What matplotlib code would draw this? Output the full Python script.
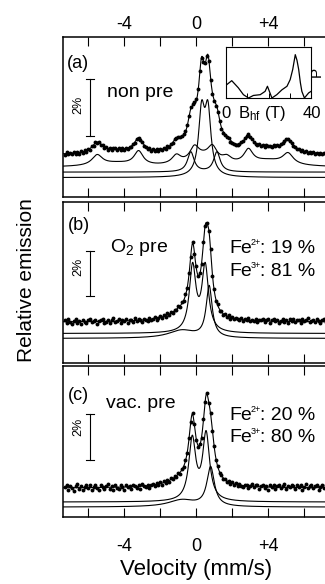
import numpy as np
import matplotlib
matplotlib.use('Agg')
import matplotlib.pyplot as plt

plt.rcParams['font.family'] = ['Liberation Sans', 'DejaVu Sans']
plt.rcParams['mathtext.fontset'] = 'custom'
plt.rcParams['mathtext.rm'] = 'Liberation Sans'
plt.rcParams['mathtext.it'] = 'Liberation Sans:italic'
plt.rcParams['mathtext.bf'] = 'Liberation Sans:bold'

# velocity channels (mm/s) of the measured spectra
vel = np.round(np.arange(-73, 74) / 10.0, 1)

# (a) non pre: measured relative emission (%)
a_data = [0.01, 0.09, 0.03, 0.08, 0.02, 0.11, 0.05, 0.12, 0.04, 0.13,
          0.07, 0.16, 0.12, 0.22, 0.19, 0.31, 0.33, 0.47, 0.42, 0.46,
          0.35, 0.36, 0.25, 0.28, 0.19, 0.25, 0.17, 0.24, 0.23, 0.17,
          0.24, 0.18, 0.23, 0.19, 0.25, 0.21, 0.29, 0.27, 0.39, 0.42,
          0.57, 0.60, 0.51, 0.45, 0.31, 0.29, 0.21, 0.23, 0.15, 0.20,
          0.14, 0.20, 0.15, 0.21, 0.18, 0.25, 0.22, 0.30, 0.29, 0.40,
          0.43, 0.57, 0.58, 0.64, 0.62, 0.66, 0.72, 0.85, 1.06, 1.38,
          1.68, 1.79, 1.85, 1.98, 2.30, 2.95, 3.42, 3.28, 3.22, 3.46,
          3.30, 2.64, 2.14, 1.88, 1.72, 1.52, 1.18, 0.92, 0.77, 0.69,
          0.64, 0.58, 0.47, 0.43, 0.37, 0.35, 0.36, 0.40, 0.45, 0.49,
          0.59, 0.68, 0.73, 0.64, 0.55, 0.44, 0.39, 0.35, 0.37, 0.31,
          0.35, 0.29, 0.34, 0.30, 0.33, 0.28, 0.34, 0.30, 0.35, 0.33,
          0.38, 0.41, 0.48, 0.55, 0.57, 0.50, 0.42, 0.32, 0.29, 0.21,
          0.20, 0.14, 0.16, 0.11, 0.13, 0.08, 0.11, 0.06, 0.09, 0.05,
          0.08, 0.04, 0.07, 0.03, 0.06, 0.02, 0.05]

# (b) O2 pre
b_data = [0.08, -0.05, 0.12, 0.02, -0.09, 0.06, 0.14, -0.03, 0.05, -0.07,
          0.10, 0.01, -0.06, 0.09, 0.15, -0.02, 0.04, 0.11, -0.08, 0.03,
          0.07, 0.13, -0.04, 0.02, 0.10, -0.06, 0.08, 0.16, 0.00, 0.05,
          0.12, -0.03, 0.09, 0.04, 0.14, -0.05, 0.07, 0.11, 0.02, 0.16,
          0.03, 0.13, 0.08, -0.02, 0.15, 0.10, 0.04, 0.18, 0.09, 0.14,
          0.22, 0.10, 0.19,
          0.25, 0.17, 0.31, 0.24, 0.38, 0.30, 0.46, 0.41, 0.55, 0.52,
          0.70, 0.66, 0.88, 0.93, 1.24, 1.49, 2.18, 2.90, 3.55, 3.02,
          2.47, 2.03, 2.19, 2.58, 3.56, 4.27, 4.42, 4.05, 3.25, 2.06,
          1.47, 0.93, 0.78, 0.51, 0.49, 0.33, 0.36, 0.22, 0.29, 0.15,
          0.23,
          0.12, 0.20, 0.14,
          0.09, 0.16, 0.05, 0.13, 0.08, 0.17, 0.03, 0.11, 0.06, 0.14,
          -0.02, 0.10, 0.07, 0.15, 0.01, 0.09, 0.12, -0.04, 0.08, 0.13,
          0.03, 0.11, -0.05, 0.06, 0.14, 0.02, 0.09, -0.03, 0.12, 0.05,
          0.15, -0.01, 0.07, 0.10, -0.06, 0.13, 0.04, 0.08, 0.17, -0.02,
          0.06, 0.11, 0.00, 0.14, 0.05, -0.04, 0.09, 0.12, 0.02, 0.07]

# (c) vac. pre
c_data = [0.05, 0.14, -0.08, 0.10, 0.01, -0.11, 0.07, 0.16, -0.04, 0.09,
          -0.10, 0.06, 0.13, -0.02, 0.11, -0.07, 0.03, 0.15, 0.00, -0.09,
          0.12, 0.04, -0.06, 0.09, 0.17, -0.03, 0.08, -0.08, 0.14, 0.02,
          -0.05, 0.11, 0.06, -0.09, 0.13, 0.03, 0.10, -0.04, 0.15, 0.07,
          0.01, 0.12, -0.03, 0.16, 0.08, 0.04, 0.14, -0.01, 0.11, 0.18,
          0.09, 0.21, 0.13,
          0.24, 0.15, 0.29, 0.21, 0.35, 0.28, 0.42, 0.37, 0.51, 0.47,
          0.66, 0.62, 0.83, 0.90, 1.22, 1.50, 2.19, 2.85, 3.26, 2.77,
          2.10, 1.80, 1.92, 2.18, 2.99, 3.76, 4.13, 3.70, 3.28, 2.46,
          1.83, 1.22, 0.96, 0.65, 0.58, 0.40, 0.41, 0.26, 0.30, 0.19,
          0.24,
          0.14, 0.22, 0.08,
          0.17, 0.10, 0.03, 0.15, 0.12, -0.02, 0.09, 0.16, 0.05, 0.11,
          0.13, -0.05, 0.08, 0.14, 0.02, 0.10, -0.07, 0.12, 0.06, 0.15,
          -0.03, 0.09, 0.13, 0.01, 0.07, 0.16, -0.06, 0.10, 0.04, 0.12,
          0.08, -0.04, 0.14, 0.03, 0.11, -0.09, 0.06, 0.17, 0.00, 0.09,
          0.13, -0.02, 0.07, 0.15, -0.07, 0.05, 0.11, 0.01, 0.14, 0.04]

# fitted sub-spectra: line positions (mm/s), heights (%), half widths (mm/s)
a_sext_pos = [-5.5, -3.2, -1.1, -0.1, 0.9, 1.7, 2.9, 5.1, -4.4, 0.4, 4.0]
a_sext_amp = [0.36, 0.48, 0.30, 0.45, 0.45, 0.20, 0.48, 0.38, 0.12, 0.30, 0.20]
a_sext_hw = [0.35, 0.30, 0.30, 0.30, 0.30, 0.30, 0.30, 0.35, 1.2, 0.9, 1.2]
a_dbl1_pos, a_dbl1_amp, a_dbl1_hw = [-0.3, 1.15], [0.7, 0.7], [0.22, 0.22]
a_dbl2_pos, a_dbl2_amp, a_dbl2_hw = [0.3, 0.65], [2.17, 2.17], [0.2, 0.2]

b_fe3_pos, b_fe3_amp, b_fe3_hw = [-0.2, 0.5], [2.9, 2.9], [0.22, 0.22]
b_fe2_pos, b_fe2_amp, b_fe2_hw = [0.72, -0.8], [2.27, 0.35], [0.2, 0.9]

c_fe3_pos, c_fe3_amp, c_fe3_hw = [-0.22, 0.55], [2.67, 2.89], [0.23, 0.23]
c_fe2_pos, c_fe2_amp, c_fe2_hw = [0.8, -0.8], [1.7, 0.3], [0.25, 0.9]

# hyperfine field distribution (inset)
bhf = [0.3, 2.7, 5.8, 8.2, 10.6, 12.9, 16.1, 18.4, 19.5, 21.6, 23.9, 26.3,
       28.7, 30.2, 31.4, 32.6, 33.4, 34.2, 35.0, 35.7, 36.9, 38.9, 40.0]
p_bhf = [0.26, 0.34, 0.20, 0.065, 0.0, 0.05, 0.065, 0.13, 0.23, 0.0, 0.065,
         0.16, 0.23, 0.36, 0.56, 0.85, 0.74, 0.56, 0.30, 0.13, 0.0, 0.10, 0.13]

tick_pos = [-6, -4, -2, 0, 2, 4, 6]
tick_lab = ['', '-4', '', '0', '', '+4', '']


def lorentz(v, pos, amp, hw):
    out = np.zeros_like(v)
    for c, a, g in zip(pos, amp, hw):
        out += a / (1.0 + ((v - c) / g) ** 2)
    return out


W, H = 325, 584
fig = plt.figure(figsize=(W / 100, H / 100), dpi=100)


def fx(x):
    return x / W


def fy(y):
    return 1 - y / H


vf = np.linspace(-7.4, 7.4, 2000)

sext = lorentz(vf, a_sext_pos, a_sext_amp, a_sext_hw)
dbl1 = lorentz(vf, a_dbl1_pos, a_dbl1_amp, a_dbl1_hw)
dbl2 = lorentz(vf, a_dbl2_pos, a_dbl2_amp, a_dbl2_hw)
b3 = lorentz(vf, b_fe3_pos, b_fe3_amp, b_fe3_hw)
b2 = lorentz(vf, b_fe2_pos, b_fe2_amp, b_fe2_hw)
c3 = lorentz(vf, c_fe3_pos, c_fe3_amp, c_fe3_hw)
c2 = lorentz(vf, c_fe2_pos, c_fe2_amp, c_fe2_hw)

# panel: (top px, bottom px, ylim, data, total fit, [(sub-spectrum, offset)], 2% bar)
panels = [
    (37, 197, (-1.474, 4.140), a_data, sext + dbl1 + dbl2,
     [(sext, -0.43), (dbl1, -0.60), (dbl2, -0.79)], (0.67, 2.67)),
    (202, 363, (-1.822, 5.333), b_data, b3 + b2,
     [(b3, -0.51), (b2, -0.73)], (1.16, 3.16)),
    (366, 517, (-1.261, 5.304), c_data, c3 + c2,
     [(c3, -0.61), (c2, -0.83)], (1.22, 3.22)),
]

for i, (top, bot, ylim, data, fit, comps, bar) in enumerate(panels):
    ax = fig.add_axes([fx(63), fy(bot), 266.4 / W, (bot - top) / H])
    ax.plot(vel, data, 'o', ms=2.8, mew=0, color='k', zorder=3)
    ax.plot(vf, fit, 'k-', lw=0.8)
    for curve, off in comps:
        ax.plot(vf, curve + off, 'k-', lw=0.8)
    # 2 % scale bar
    ax.plot([-5.9, -5.9], bar, 'k-', lw=0.8)
    for yb in bar:
        ax.plot([-6.1, -5.7], [yb, yb], 'k-', lw=0.8)
    ax.set_xlim(-7.4, 7.4)
    ax.set_ylim(*ylim)
    ax.set_yticks([])
    ax.set_xticks(tick_pos)
    ax.set_xticklabels(tick_lab)
    ax.tick_params(axis='x', direction='in', length=6.5, width=0.8,
                   top=True, bottom=True, labelsize=13,
                   labeltop=(i == 0), labelbottom=(i == 2),
                   pad=3 if i == 0 else 15)
    for s in ax.spines.values():
        s.set_linewidth(1.1)


def fe_label(x, y, ion, pct):
    fig.text(fx(x), fy(y), 'Fe', fontsize=14, ha='left', va='baseline')
    fig.text(fx(x + 22), fy(y - 8), ion, fontsize=6.5, ha='left', va='baseline')
    fig.text(fx(x + 31), fy(y), ': ' + pct + ' %', fontsize=14, ha='left', va='baseline')


fig.text(fx(67), fy(63), '(a)', fontsize=13, ha='left', va='center')
fig.text(fx(68), fy(226), '(b)', fontsize=13, ha='left', va='center')
fig.text(fx(68), fy(396), '(c)', fontsize=13, ha='left', va='center')
fig.text(fx(107), fy(97), 'non pre', fontsize=14, ha='left', va='baseline')
fig.text(fx(110), fy(252), r'O$_{2}$ pre', fontsize=14, ha='left', va='baseline')
fig.text(fx(106), fy(408), 'vac. pre', fontsize=14, ha='left', va='baseline')
fe_label(229, 253, '2+', '19')
fe_label(229, 276, '3+', '81')
fe_label(229, 420, '2+', '20')
fe_label(229, 442, '3+', '80')
for yc in (105, 267, 427):
    fig.text(fx(78), fy(yc), '2%', fontsize=9, rotation=90, ha='center', va='center')

fig.text(fx(27), fy(280), 'Relative emission', fontsize=15, rotation=90,
         ha='center', va='center')
fig.text(fx(196), fy(570), 'Velocity (mm/s)', fontsize=16, ha='center', va='center')

# inset: hyperfine field distribution
ins = fig.add_axes([fx(226), fy(98), 85 / W, 51 / H])
ins.plot(bhf, p_bhf, 'k-', lw=0.9)
ins.set_xlim(0, 40)
ins.set_ylim(0, 1.0)
ins.set_yticks([])
ins.set_xticks([10, 20, 30])
ins.set_xticklabels([])
ins.tick_params(axis='x', direction='in', length=3.5, width=0.7)
for s in ins.spines.values():
    s.set_linewidth(0.8)
fig.text(fx(226), fy(113), '0', fontsize=12, ha='center', va='center')
fig.text(fx(262), fy(113), r'B$_{\mathrm{hf}}$ (T)', fontsize=12, ha='center', va='center')
fig.text(fx(312), fy(113), '40', fontsize=12, ha='center', va='center')
fig.text(fx(317), fy(72), 'P', fontsize=11, rotation=90, ha='center', va='center')

fig.savefig('out.png', dpi=100)
